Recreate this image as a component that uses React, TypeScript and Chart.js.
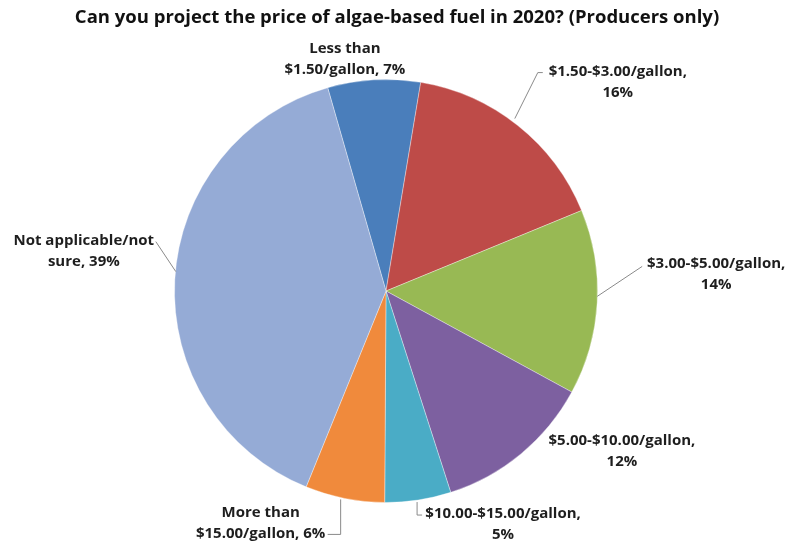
import React, { useEffect, useRef } from "react";
import { Chart, registerables } from "chart.js";

Chart.register(...registerables);

const titleText = "Can you project the price of algae-based fuel in 2020? (Producers only)";
const categories = [
  "Less than\n$1.50/gallon",
  "$1.50-$3.00/gallon",
  "$3.00-$5.00/gallon",
  "$5.00-$10.00/gallon",
  "$10.00-$15.00/gallon",
  "More than\n$15.00/gallon",
  "Not applicable/not\nsure",
];
const shares = [7, 16, 14, 12, 5, 6, 39];
const sliceColors = ["#4A7EBB", "#BE4B48", "#98B954", "#7D60A0", "#4AACC6", "#F08A3C", "#95ABD6"];

// label block centre relative to the slice's outer-edge midpoint
const labelOffsets: [number, number][] = [
  [-29, -21],
  [100, -43],
  [119, -28],
  [101, -3],
  [85, 24],
  [-84, 25],
  [-91, -28],
];
// leader polylines relative to the slice's outer-edge midpoint (empty = none)
const leaderPaths: [number, number][][] = [
  [],
  [[-3, -7], [20, -53], [25, -53]],
  [[0, -6], [45, -36]],
  [],
  [[-1, 2], [-1, 15], [4, 15]],
  [[-4, 1], [-4, 36], [-17, 36]],
  [[1, -8], [-19, -38]],
];

function labelLines(i: number): string[] {
  const name = categories[i];
  const pct = `${shares[i]}%`;
  if (name.includes("\n")) return `${name}, ${pct}`.split("\n");
  return [`${name},`, pct];
}

const labelPlugin = {
  id: "sliceLabels",
  afterDraw(chart: any) {
    const ctx = chart.ctx;
    const meta = chart.getDatasetMeta(0);
    ctx.save();
    // title
    ctx.fillStyle = "#111";
    ctx.font = "bold 18.5px 'Open Sans', Lato, sans-serif";
    ctx.textAlign = "center";
    ctx.textBaseline = "middle";
    ctx.fillText(titleText, 397, 18);

    meta.data.forEach((arc: any, i: number) => {
      const p = arc.getProps(["x", "y", "startAngle", "endAngle", "outerRadius"], true);
      const mid = (p.startAngle + p.endAngle) / 2;
      const ex = p.x + Math.cos(mid) * p.outerRadius;
      const ey = p.y + Math.sin(mid) * p.outerRadius;
      const path = leaderPaths[i];
      if (path.length) {
        ctx.strokeStyle = "#8a8a8a";
        ctx.lineWidth = 1;
        ctx.beginPath();
        ctx.moveTo(ex + path[0][0], ey + path[0][1]);
        for (let k = 1; k < path.length; k++) ctx.lineTo(ex + path[k][0], ey + path[k][1]);
        ctx.stroke();
      }
      const lines = labelLines(i);
      const lh = 21;
      const cx = ex + labelOffsets[i][0];
      const cy = ey + labelOffsets[i][1];
      ctx.fillStyle = "#1e1e1e";
      ctx.font = "bold 15px 'Open Sans', Lato, sans-serif";
      ctx.textAlign = "center";
      ctx.textBaseline = "middle";
      lines.forEach((t, k) => {
        ctx.fillText(t, cx, cy + (k - (lines.length - 1) / 2) * lh);
      });
    });
    ctx.restore();
  },
};

export default function App() {
  const ref = useRef<HTMLCanvasElement | null>(null);
  useEffect(() => {
    if (!ref.current) return;
    const chart = new Chart(ref.current, {
      type: "pie",
      data: {
        labels: categories.map((c) => c.replace("\n", " ")),
        datasets: [
          {
            data: shares,
            backgroundColor: sliceColors,
            borderColor: "rgba(255,255,255,0.35)",
            borderWidth: 1,
            hoverOffset: 0,
          },
        ],
      },
      options: {
        responsive: false,
        animation: false,
        rotation: -16,
        layout: { padding: { top: 79, left: 174, right: 192, bottom: 43 } },
        plugins: {
          legend: { display: false },
          tooltip: { enabled: false },
          title: { display: false },
        },
      },
      plugins: [labelPlugin],
    });
    return () => chart.destroy();
  }, []);
  return (
    <div style={{ position: "absolute", left: 0, top: 0, width: 790, height: 546, background: "#fff" }}>
      <canvas ref={ref} width={790} height={546} />
    </div>
  );
}
